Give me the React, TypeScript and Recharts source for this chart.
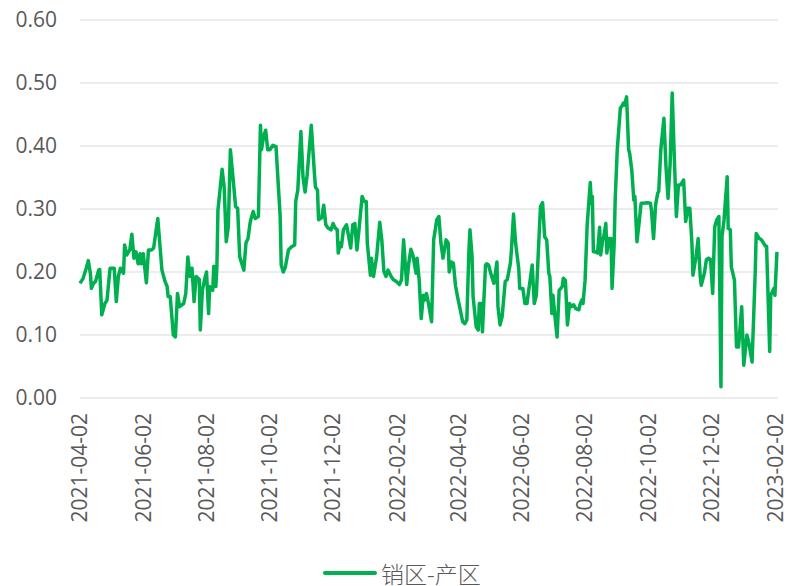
import { LineChart, Line, XAxis, YAxis, CartesianGrid, Legend } from 'recharts'

const START_DATE = '2021-04-02'
const SERIES_NAME = '销区-产区'
const GREEN = '#00b050'
const TEXT = '#595959'
const FONT = '"Open Sans", "Noto Sans", sans-serif'

// x-axis labels, every two months
const tickLabels = [
  '2021-04-02', '2021-06-02', '2021-08-02', '2021-10-02', '2021-12-02', '2022-02-02',
  '2022-04-02', '2022-06-02', '2022-08-02', '2022-10-02', '2022-12-02', '2023-02-02',
]

const yTicks = [0, 0.1, 0.2, 0.3, 0.4, 0.5, 0.6]

// days after 2021-04-02
const dayOffsets = [
  0, 3, 6, 8, 10, 11, 13, 15, 18, 19, 21, 24, 26, 29, 33, 35, 37, 39, 42, 43,
  45, 48, 50, 52, 54, 56, 58, 59, 61, 64, 66, 69, 71, 75, 79, 82, 84, 85, 87, 90,
  92, 94, 96, 100, 102, 104, 106, 108, 110, 112, 115, 116, 118, 120, 122, 124, 125, 128, 129, 131,
  132, 133, 137, 139, 141, 143, 145, 148, 150, 152, 154, 158, 160, 162, 164, 165, 167, 169, 172, 174,
  175, 177, 179, 181, 183, 186, 189, 193, 194, 196, 198, 201, 204, 207, 208, 210, 213, 215, 217, 219,
  223, 226, 227, 229, 230, 233, 235, 237, 239, 242, 244, 246, 248, 249, 251, 252, 254, 257, 261, 263,
  265, 267, 269, 272, 274, 276, 277, 280, 281, 283, 286, 289, 291, 293, 295, 297, 300, 302, 305, 308,
  310, 312, 315, 317, 319, 321, 324, 325, 327, 329, 331, 332, 334, 336, 339, 341, 344, 346, 348, 350,
  353, 355, 356, 358, 360, 362, 364, 366, 369, 371, 373, 375, 376, 378, 379, 382, 384, 385, 387, 388,
  391, 392, 394, 396, 399, 400, 402, 403, 405, 407, 410, 412, 415, 416, 418, 420, 423, 424, 427, 429,
  431, 432, 436, 438, 440, 442, 444, 446, 448, 450, 452, 453, 455, 456, 458, 460, 462, 465, 466, 468,
  470, 472, 474, 476, 478, 481, 482, 484, 485, 487, 489, 492, 493, 494, 495, 497, 499, 501, 502, 504,
  505, 507, 508, 510, 512, 513, 515, 516, 518, 519, 521, 522, 524, 525, 527, 529, 530, 532, 534, 535,
  537, 539, 541, 543, 547, 550, 551, 553, 555, 557, 558, 560, 563, 565, 567, 569, 571, 573, 575, 577,
  579, 582, 584, 586, 588, 590, 591, 594, 596, 598, 599, 602, 604, 606, 608, 610, 612, 614, 616, 618,
  619, 621, 624, 625, 627, 628, 631, 633, 635, 638, 640, 643, 645, 648, 651, 652, 655, 657, 659, 661,
  662, 665, 666, 669, 670, 672,
]

const spreadValues = [
  0.182, 0.19, 0.206, 0.218, 0.198, 0.174, 0.182, 0.185, 0.203, 0.204, 0.132, 0.15, 0.155, 0.206, 0.206, 0.153, 0.193, 0.206, 0.198, 0.243,
  0.227, 0.235, 0.26, 0.222, 0.232, 0.213, 0.229, 0.213, 0.229, 0.183, 0.235, 0.235, 0.238, 0.285, 0.203, 0.185, 0.177, 0.161, 0.161, 0.1,
  0.097, 0.166, 0.145, 0.15, 0.166, 0.224, 0.193, 0.206, 0.153, 0.193, 0.188, 0.108, 0.171, 0.187, 0.2, 0.134, 0.177, 0.171, 0.209, 0.177,
  0.209, 0.298, 0.363, 0.335, 0.248, 0.272, 0.394, 0.341, 0.304, 0.301, 0.224, 0.203, 0.246, 0.253, 0.278, 0.285, 0.296, 0.285, 0.288, 0.433,
  0.394, 0.415, 0.425, 0.394, 0.394, 0.401, 0.399, 0.288, 0.211, 0.2, 0.208, 0.235, 0.24, 0.243, 0.312, 0.33, 0.423, 0.351, 0.327, 0.354,
  0.433, 0.357, 0.335, 0.33, 0.283, 0.286, 0.306, 0.275, 0.27, 0.267, 0.277, 0.27, 0.267, 0.23, 0.246, 0.24, 0.267, 0.275, 0.238, 0.275,
  0.277, 0.235, 0.267, 0.32, 0.312, 0.312, 0.246, 0.195, 0.222, 0.193, 0.224, 0.279, 0.251, 0.201, 0.193, 0.203, 0.193, 0.188, 0.185, 0.18,
  0.188, 0.251, 0.18, 0.214, 0.236, 0.227, 0.198, 0.222, 0.188, 0.126, 0.163, 0.155, 0.166, 0.15, 0.121, 0.251, 0.283, 0.288, 0.246, 0.222,
  0.251, 0.246, 0.2, 0.216, 0.214, 0.179, 0.161, 0.145, 0.121, 0.118, 0.124, 0.235, 0.267, 0.225, 0.161, 0.113, 0.108, 0.15, 0.15, 0.105,
  0.211, 0.213, 0.211, 0.198, 0.182, 0.193, 0.216, 0.145, 0.116, 0.129, 0.185, 0.188, 0.214, 0.235, 0.292, 0.246, 0.206, 0.174, 0.174, 0.15,
  0.15, 0.163, 0.211, 0.15, 0.163, 0.235, 0.304, 0.31, 0.256, 0.251, 0.198, 0.193, 0.134, 0.163, 0.129, 0.097, 0.171, 0.177, 0.19, 0.187,
  0.116, 0.15, 0.145, 0.148, 0.142, 0.14, 0.148, 0.156, 0.15, 0.187, 0.275, 0.342, 0.309, 0.32, 0.232, 0.232, 0.23, 0.271, 0.227, 0.251,
  0.256, 0.277, 0.23, 0.253, 0.253, 0.174, 0.243, 0.314, 0.394, 0.416, 0.46, 0.462, 0.468, 0.465, 0.478, 0.394, 0.388, 0.362, 0.314, 0.32,
  0.248, 0.277, 0.309, 0.309, 0.31, 0.309, 0.298, 0.253, 0.307, 0.325, 0.328, 0.394, 0.444, 0.367, 0.317, 0.372, 0.484, 0.383, 0.288, 0.338,
  0.338, 0.346, 0.28, 0.301, 0.301, 0.246, 0.195, 0.225, 0.253, 0.193, 0.179, 0.198, 0.22, 0.222, 0.22, 0.166, 0.272, 0.283, 0.288, 0.018,
  0.256, 0.283, 0.351, 0.269, 0.267, 0.208, 0.187, 0.081, 0.081, 0.145, 0.052, 0.1, 0.087, 0.057, 0.198, 0.261, 0.253, 0.251, 0.246, 0.241,
  0.241, 0.074, 0.163, 0.174, 0.163, 0.232,
]

const DAY_MS = 86400000
const toDay = (date: string) => Math.round((Date.parse(date) - Date.parse(START_DATE)) / DAY_MS)
const tickDays = tickLabels.map(toDay)

const data = dayOffsets.map((day, i) => ({ day, value: spreadValues[i] }))

// rotated date label, reads bottom to top
const DateTick = ({ x, y, payload }: any) => {
  const label = tickLabels[tickDays.indexOf(payload.value)]
  return (
    <g transform={`translate(${x},${y})`}>
      <text transform="rotate(-90)" textAnchor="end" dy="0.35em" fill={TEXT} fontSize={21} fontFamily={FONT}>
        {label}
      </text>
    </g>
  )
}

const LegendContent = () => (
  <div style={{ display: 'flex', alignItems: 'center', height: 24 }}>
    <span style={{ display: 'inline-block', width: 54, height: 4, borderRadius: 2, background: GREEN }} />
    <span
      style={{
        marginLeft: 4,
        fontSize: 23,
        lineHeight: '24px',
        color: TEXT,
        fontFamily: '"Noto Sans CJK SC", sans-serif',
        fontWeight: 300,
      }}
    >
      {SERIES_NAME}
    </span>
  </div>
)

export default function App() {
  return (
    <div style={{ position: 'absolute', left: 0, top: 0, width: 787, height: 586, background: '#fff' }}>
      <LineChart width={787} height={586} data={data} margin={{ top: 20, right: 9, bottom: 48, left: 0 }}>
        <CartesianGrid vertical={false} stroke="#d9d9d9" strokeWidth={1} />
        <XAxis
          dataKey="day"
          type="number"
          domain={[0, 673]}
          ticks={tickDays}
          interval={0}
          tick={<DateTick />}
          tickLine={false}
          axisLine={false}
          tickSize={0}
          tickMargin={15}
          height={140}
        />
        <YAxis
          type="number"
          domain={[0, 0.6]}
          ticks={yTicks}
          interval={0}
          tickFormatter={(v: number) => v.toFixed(2)}
          tick={{ fill: TEXT, fontSize: 21, fontFamily: FONT }}
          tickLine={false}
          axisLine={false}
          tickSize={0}
          tickMargin={23}
          width={80}
        />
        <Legend
          layout="horizontal"
          verticalAlign="middle"
          align="center"
          content={<LegendContent />}
          wrapperStyle={{ top: 561, left: 323, width: 'auto', height: 24 }}
        />
        <Line
          type="linear"
          dataKey="value"
          name={SERIES_NAME}
          stroke={GREEN}
          strokeWidth={3.5}
          strokeLinejoin="round"
          dot={false}
          activeDot={false}
          isAnimationActive={false}
        />
      </LineChart>
    </div>
  )
}
